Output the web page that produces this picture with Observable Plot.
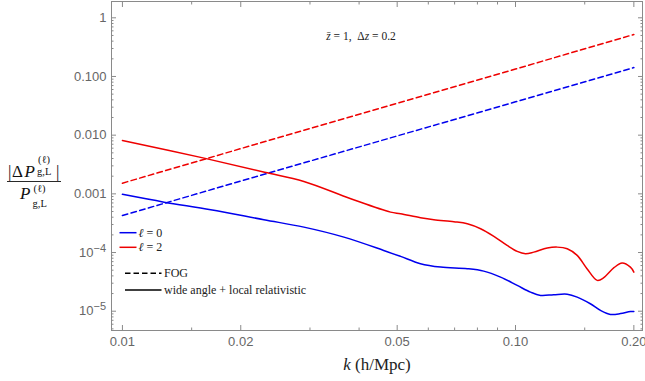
<!DOCTYPE html>
<html><head><meta charset="utf-8">
<script src="https://cdn.jsdelivr.net/npm/d3@7"></script>
<script src="https://cdn.jsdelivr.net/npm/@observablehq/plot@0.6"></script>
<style>body{margin:0;background:#fff}#chart{width:645px;height:381px}</style>
</head><body><div id="chart"></div>
<script>
// ---- data ----
const kL0Solid = [0.01, 0.01276, 0.01677, 0.0229, 0.02895, 0.0366, 0.0462, 0.051, 0.0573, 0.0645, 0.0754, 0.083, 0.0916, 0.101, 0.1092, 0.1158, 0.125, 0.1354, 0.1435, 0.155, 0.1645, 0.1744, 0.185, 0.196, 0.2];
const vL0Solid = [9.8e-4, 7.22e-4, 5.36e-4, 3.62e-4, 2.71e-4, 1.83e-4, 1.086e-4, 8.59e-5, 6.45e-5, 5.64e-5, 5.3e-5, 4.82e-5, 3.81e-5, 2.75e-5, 2.11e-5, 1.86e-5, 1.91e-5, 1.95e-5, 1.74e-5, 1.34e-5, 1.03e-5, 8.8e-6, 9.1e-6, 9.9e-6, 9.9e-6];
const kL2Solid = [0.01, 0.01613, 0.023, 0.02895, 0.0381, 0.0481, 0.051, 0.0573, 0.062, 0.0697, 0.0754, 0.0815, 0.0881, 0.0952, 0.101, 0.106, 0.1113, 0.1204, 0.1276, 0.1354, 0.1435, 0.152, 0.1614, 0.1677, 0.178, 0.1867, 0.196, 0.2];
const vL2Solid = [8.1e-3, 4.06e-3, 2.34e-3, 1.626e-3, 8.26e-4, 4.88e-4, 4.58e-4, 3.92e-4, 3.62e-4, 3.35e-4, 3.09e-4, 2.54e-4, 1.88e-4, 1.32e-4, 1.045e-4, 9.55e-5, 1.016e-4, 1.19e-4, 1.236e-4, 1.16e-4, 8.93e-5, 5.3e-5, 3.35e-5, 3.72e-5, 5.51e-5, 6.6e-5, 5.63e-5, 4.64e-5];
const kL0Fog = [0.01, 0.02, 0.05, 0.1, 0.2];
const vL0Fog = [4.28e-4, 1.65e-3, 9.7e-3, 3.7e-2, 0.142];
const kL2Fog = [0.01, 0.02, 0.05, 0.1, 0.2];
const vL2Fog = [1.52e-3, 5.9e-3, 3.5e-2, 0.134, 0.52];

const xMajor = [0.01, 0.02, 0.05, 0.1, 0.2];
const xMajorLabels = ["0.01", "0.02", "0.05", "0.10", "0.20"];
const xMinor = [0.015, 0.03, 0.04, 0.06, 0.07, 0.08, 0.09, 0.15];
const yMajor = [1, 0.1, 0.01, 0.001, 1e-4, 1e-5];
const yMajorLabels = ["1", "0.100", "0.010", "0.001", "10^−4", "10^−5"];
const yMinor = [];
for (const d of [1e-6, 1e-5, 1e-4, 1e-3, 1e-2, 1e-1, 1]) for (let m = 2; m <= 9; m++) yMinor.push(+(m * d).toPrecision(3));
const legendSeries = ["0", "2"];
const legendStyles = ["FOG", "wide angle + local relativistic"];

const xDomain = [0.00938, 0.2104];
const yDomain = [4.69e-6, 1.896];

const series = [
  {k: kL0Fog, v: vL0Fog, color: "#0000ee", dash: "5.5,3.5", curve: "linear"},
  {k: kL2Fog, v: vL2Fog, color: "#ee0000", dash: "5.5,3.5", curve: "linear"},
  {k: kL0Solid, v: vL0Solid, color: "#0000ee", dash: null, curve: "catmull-rom"},
  {k: kL2Solid, v: vL2Solid, color: "#ee0000", dash: null, curve: "catmull-rom"}
];

const gray = "#8a8a8a";
const xLab = new Map(xMajor.map((d, i) => [d, xMajorLabels[i]]));
const yLab = new Map(yMajor.map((d, i) => [d, yMajorLabels[i]]));
const tickOpts = (size) => ({tickSize: size, tickFormat: () => "", label: null, stroke: gray});
const yInRange = yMinor.filter(d => d > yDomain[0] && d < yDomain[1]);

const plot = Plot.plot({
  width: 645, height: 381,
  marginLeft: 111, marginRight: 3, marginTop: 1, marginBottom: 51,
  x: {type: "log", domain: xDomain},
  y: {type: "log", domain: yDomain},
  style: {background: "white", fontFamily: "Liberation Sans, Arial, sans-serif", fontSize: "13px", color: "#666"},
  marks: [
    ...series.map(s => Plot.line(s.k.map((k, i) => ({k, v: s.v[i]})), {
      x: "k", y: "v", stroke: s.color, strokeWidth: 1.5, strokeDasharray: s.dash, curve: s.curve
    })),
    Plot.frame({stroke: gray}),
    Plot.axisX(xMajor, {anchor: "bottom", ...tickOpts(-5)}),
    Plot.axisX(xMajor, {anchor: "top", ...tickOpts(-5)}),
    Plot.axisX(xMinor, {anchor: "bottom", ...tickOpts(-2.5)}),
    Plot.axisX(xMinor, {anchor: "top", ...tickOpts(-2.5)}),
    Plot.axisY(yMajor, {anchor: "left", ...tickOpts(-5)}),
    Plot.axisY(yMajor, {anchor: "right", ...tickOpts(-5)}),
    Plot.axisY(yInRange, {anchor: "left", ...tickOpts(-2.5)}),
    Plot.axisY(yInRange, {anchor: "right", ...tickOpts(-2.5)}),
    Plot.axisX(xMajor, {anchor: "bottom", tickSize: 0, tickPadding: 6, tickFormat: d => xLab.get(d), label: null, fill: "#666", fontSize: 13}),
    Plot.axisY(yMajor.slice(0, 4), {anchor: "left", tickSize: 0, tickPadding: 5, tickFormat: d => yLab.get(d), label: null, fill: "#666", fontSize: 13})
  ]
});
document.getElementById("chart").appendChild(plot);

const svg = d3.select(plot);
const ys = plot.scale("y");
// power-of-ten tick labels
yMajor.slice(4).forEach(d => {
  const [base, exp] = yLab.get(d).split("^");
  const t = svg.append("text").attr("x", 106).attr("y", ys.apply(d)).attr("dy", "0.35em")
    .attr("text-anchor", "end").attr("fill", "#666")
    .style("font-family", "Liberation Sans, Arial, sans-serif").style("font-size", "13px");
  t.append("tspan").text(base);
  t.append("tspan").attr("dy", -5).style("font-size", "11px").text(exp);
});

const serif = "Liberation Serif, Times New Roman, serif";
// title
svg.append("text").attr("x", 361).attr("y", 40).attr("text-anchor", "middle")
  .style("font-family", serif).style("font-size", "11.5px").attr("fill", "#222")
  .html(`<tspan font-style="italic">z\u0304</tspan> = 1,\u2002Δ<tspan font-style="italic">z</tspan> = 0.2`);

// x-axis title
svg.append("text").attr("x", 377).attr("y", 370).attr("text-anchor", "middle")
  .style("font-family", serif).style("font-size", "17px").attr("fill", "#222")
  .html(`<tspan font-style="italic">k</tspan> (h/Mpc)`);

// y-axis title (fraction)
const yt = svg.append("g").style("font-family", serif).attr("fill", "#111").attr("text-anchor", "start");
const num = (x, y, txt, size, it) => yt.append("text").attr("x", x).attr("y", y).attr("text-anchor", "start").style("font-size", size + "px").attr("font-style", it ? "italic" : null).text(txt);
num(8, 177, "|", 17, false);
num(12, 177, "Δ", 17, false);
num(24.5, 177, "P", 17, true);
num(38, 163, "(ℓ)", 10.5, false);
num(37, 174.5, "g,L", 10.5, false);
num(56, 177, "|", 17, false);
yt.append("line").attr("x1", 7).attr("x2", 61).attr("y1", 181.5).attr("y2", 181.5).attr("stroke", "#111").attr("stroke-width", 0.9);
num(20, 199, "P", 17, true);
num(33.5, 192, "(ℓ)", 10.5, false);
num(32.5, 206.5, "g,L", 10.5, false);

// legend
const lg = svg.append("g").style("font-family", serif).style("font-size", "12px").attr("fill", "#222").attr("text-anchor", "start");
[["#0000ee", 232.7], ["#ee0000", 247.3]].forEach(([c, y], i) => {
  lg.append("line").attr("x1", 119.5).attr("x2", 136.5).attr("y1", y).attr("y2", y).attr("stroke", c).attr("stroke-width", 1.5);
  lg.append("text").attr("x", 138.5).attr("y", y + 4).attr("text-anchor", "start").html(`<tspan font-style="italic">ℓ</tspan> = ${legendSeries[i]}`);
});
[["5.5,3", 273.3], [null, 290]].forEach(([dash, y], i) => {
  lg.append("line").attr("x1", 125).attr("x2", 161.5).attr("y1", y).attr("y2", y).attr("stroke", "#000").attr("stroke-width", 1.5).attr("stroke-dasharray", dash);
  lg.append("text").attr("x", 164).attr("y", y + 4).attr("text-anchor", "start").text(legendStyles[i]);
});
</script></body></html>
